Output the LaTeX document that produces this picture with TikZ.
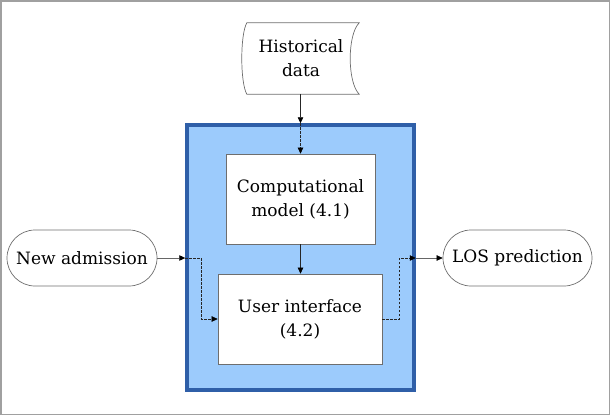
\documentclass[tikz,border=0pt]{standalone}
\usepackage{fontspec}
\setmainfont{DejaVu Serif}
\usetikzlibrary{positioning,arrows.meta,calc,shapes.misc}
\definecolor{sysfill}{HTML}{9CCBFC}
\definecolor{sysline}{HTML}{2F5FA8}
\definecolor{boxline}{HTML}{6E6E6E}
\definecolor{frameline}{HTML}{A0A0A0}

\begin{document}
\begin{tikzpicture}[x=1pt,y=-1pt,
		every node/.style={font=\fontsize{17}{24}\selectfont, align=center, inner sep=0pt},
		procbox/.style={draw=boxline, fill=white, line width=0.7pt},
		pill/.style={rounded rectangle, draw=boxline, line width=0.7pt, minimum height=56pt},
		flow/.style={line width=0.6pt, draw=black!85, -{Triangle[length=6pt,width=5.5pt,color=black]}},
		inner/.style={flow, dashed, dash pattern=on 2.5pt off 1.5pt}
	]
	\useasboundingbox (0,0) rectangle (612,418);
	\draw[frameline, line width=1.5pt] (1,1) rectangle (609.5,414.5);
	
	\node[fill=sysfill, draw=sysline, line width=3.5pt, minimum width=227pt, minimum height=265pt] (sys) at (300.5,257.5) {};
	\node[procbox, minimum width=149pt, minimum height=90pt] (model) at (300.5,199) {Computational\\model (4.1)};
	\node[procbox, minimum width=164pt, minimum height=90pt] (ui) at (300,319) {User interface\\(4.2)};
	\node[pill, minimum width=150pt] (adm) at (82,258) {New admission};
	\node[pill, minimum width=149pt] (los) at (517.5,258) {LOS prediction};
	\node[minimum width=112pt, minimum height=71pt] (hist) at (301,58.5) {Historical\\data};
	\draw[boxline, line width=0.7pt] ([xshift=2pt]hist.north west) .. controls +(-6.7,12) and +(-6.7,-12) .. ([xshift=2pt]hist.south west)
		-- ([xshift=2pt]hist.south east) .. controls +(-12,-12) and +(-12,12) .. ([xshift=2pt]hist.north east) -- cycle;
	
	\coordinate (top) at (hist.south -| model.north);
	\coordinate (inL) at (sys.west |- adm.east);
	\coordinate (outR) at (sys.east |- los.west);
	\coordinate (topB) at (sys.north -| model.north);
	
	\draw[flow] (top) -- (topB);
	\draw[inner] (topB) -- (model.north);
	\draw[flow] (model.south) -- (model.south |- ui.north);
	\draw[flow, draw=black!60] (adm.east) -- (inL);
	\draw[inner] (inL) -- ++(16,0) |- (ui.west);
	\draw[inner] (ui.east) -- ++(17,0) |- (outR);
	\draw[flow, draw=black!60] (outR) -- (los.west);
\end{tikzpicture}
\end{document}
